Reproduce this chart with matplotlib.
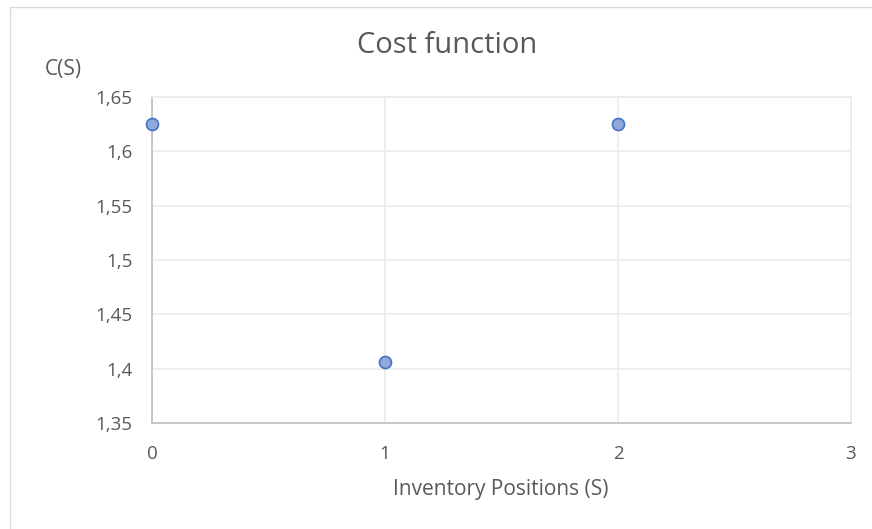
import matplotlib.pyplot as plt
from matplotlib.patches import Rectangle
from matplotlib.ticker import FuncFormatter

# Cost C(S) for each inventory position S.
positions = [0, 1, 2]
cost = [1.625, 1.406, 1.625]

y_ticks = [1.35, 1.40, 1.45, 1.50, 1.55, 1.60, 1.65]
x_ticks = [0, 1, 2, 3]

plt.rcParams['font.family'] = ['Open Sans', 'DejaVu Sans']
text_col = '#595959'

fig = plt.figure(figsize=(8.72, 5.29), dpi=100)
ax = fig.add_axes([0.1743, 0.2004, 0.8016, 0.6162])

# outer chart frame (only left/top visible in the screenshot)
fig.patches.append(Rectangle((10 / 872, -0.1), 1.2, 1 - 7 / 529 + 0.1,
                             transform=fig.transFigure, fill=False,
                             edgecolor='#d9d9d9', linewidth=1))

ax.scatter(positions, cost, s=75, color='#8eaadb', edgecolors='#4472c4',
           linewidths=1.2, zorder=3, clip_on=False)

ax.set_xlim(0, 3)
ax.set_ylim(1.35, 1.65)
ax.set_xticks(x_ticks)
ax.set_yticks(y_ticks)
ax.yaxis.set_major_formatter(
    FuncFormatter(lambda v, p: ('%g' % round(v, 2)).replace('.', ',')))
ax.grid(True, color='#ebebeb', linewidth=1.2)
ax.set_axisbelow(True)

for side in ['top', 'right']:
    ax.spines[side].set_color('#ebebeb')
    ax.spines[side].set_linewidth(1.2)
for side in ['left', 'bottom']:
    ax.spines[side].set_color('#bfbfbf')
    ax.spines[side].set_linewidth(1.2)

ax.tick_params(length=0, colors=text_col, labelsize=13.5)
ax.tick_params(axis='y', pad=14)
ax.tick_params(axis='x', pad=16)

fig.text(447 / 872, 1 - 46 / 529, 'Cost function', fontsize=21,
         color=text_col, ha='center', va='center')
fig.text(501 / 872, 1 - 490 / 529, 'Inventory Positions (S)', fontsize=15,
         color=text_col, ha='center', va='center')
fig.text(45 / 872, 1 - 70 / 529, 'C(S)', fontsize=15, color=text_col,
         va='center', ha='left')

fig.savefig('out.png', dpi=100)
